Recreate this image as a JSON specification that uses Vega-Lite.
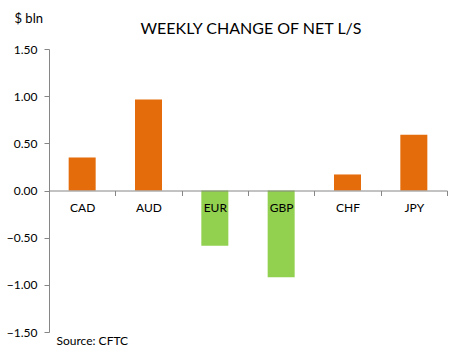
{
  "$schema": "https://vega.github.io/schema/vega-lite/v6.json",
  "width": 398,
  "height": 283,
  "autosize": {"type": "none"},
  "padding": {"left": 49, "top": 49, "right": 22, "bottom": 27},
  "background": "white",
  "title": {"text": "WEEKLY CHANGE OF NET L/S", "font": "Lato", "fontSize": 16, "fontWeight": "normal", "color": "#000000", "offset": -25, "anchor": "middle", "dx": 3},
  "data": {"values": [
    {"currency": "CAD", "value": 0.35},
    {"currency": "AUD", "value": 0.965},
    {"currency": "EUR", "value": -0.585},
    {"currency": "GBP", "value": -0.92},
    {"currency": "CHF", "value": 0.17},
    {"currency": "JPY", "value": 0.59}
  ]},
  "mark": {"type": "bar", "width": 27},
  "encoding": {
    "x": {
      "field": "currency", "type": "nominal", "sort": null,
      "scale": {"paddingInner": 0, "paddingOuter": 0},
      "axis": {
        "orient": "bottom", "offset": -141.5, "labelAngle": 0, "zindex": 1,
        "domainColor": "#868686", "tickColor": "#868686", "tickSize": 5, "tickBand": "extent",
        "labelPadding": 7, "labelFont": "Lato", "labelFontSize": 12, "labelColor": "#000000",
        "title": "Source: CFTC", "titleX": 7, "titleY": 150, "titleAlign": "left", "titleAnchor": null,
        "titleBaseline": "middle", "titleFont": "Lato", "titleFontSize": 12, "titleFontWeight": "normal", "titleColor": "#000000"
      }
    },
    "y": {
      "field": "value", "type": "quantitative",
      "scale": {"domain": [-1.5, 1.5], "nice": false, "zero": false},
      "axis": {
        "values": [-1.5, -1, -0.5, 0, 0.5, 1, 1.5], "format": ".2f", "grid": false,
        "domainColor": "#868686", "tickColor": "#868686", "tickSize": 5, "labelPadding": 7,
        "labelFont": "Lato", "labelFontSize": 12, "labelColor": "#000000",
        "title": "$ bln", "titleAngle": 0, "titleX": -35, "titleY": -31, "titleAlign": "left",
        "titleBaseline": "middle", "titleFont": "Lato", "titleFontSize": 13, "titleFontWeight": "normal", "titleColor": "#000000"
      }
    },
    "color": {"condition": {"test": "datum.value < 0", "value": "#92D050"}, "value": "#E46C0A"}
  },
  "config": {"view": {"stroke": null}}
}
